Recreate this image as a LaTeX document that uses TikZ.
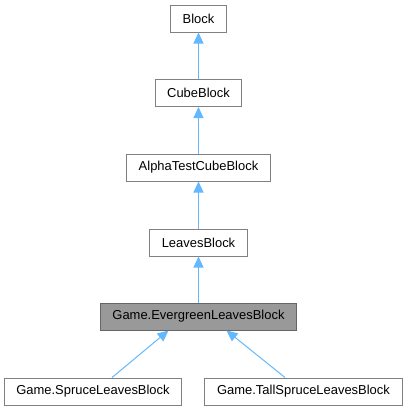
\documentclass[tikz,border=0pt]{standalone}
\usepackage{fontspec}
\setmainfont{Liberation Sans}
\usetikzlibrary{arrows.meta, calc}
\definecolor{edgeblue}{RGB}{99,184,255}
\definecolor{boxline}{RGB}{128,128,128}
\begin{document}
\begin{tikzpicture}[x=1bp, y=-1bp,
	cls/.style={draw=boxline, line width=1bp, fill=white, minimum height=27bp, inner sep=0pt, font=\fontsize{13}{15}\selectfont},
	current/.style={cls, fill=black!40, draw=black!60},
	inh/.style={draw=edgeblue, line width=1bp, -{Triangle[width=10bp, length=11bp]}}
	]
		\useasboundingbox (0,0) rectangle (408,411);
		\node [cls, minimum width=55bp] (block) at (198.5,18.5) {Block};
		\node [cls, minimum width=86bp] (cube) at (198.5,93) {CubeBlock};
		\node [cls, minimum width=143bp] (alpha) at (198.5,167.5) {AlphaTestCubeBlock};
		\node [cls, minimum width=97bp] (leaves) at (198.5,242.5) {LeavesBlock};
		\node [current, minimum width=195bp] (evergreen) at (198.5,316.5) {Game.EvergreenLeavesBlock};
		\node [cls, minimum width=176bp] (spruce) at (93,391.5) {Game.SpruceLeavesBlock};
		\node [cls, minimum width=197bp] (tall) at (303.5,391.5) {Game.TallSpruceLeavesBlock};
		\draw [inh] (cube) -- (block);
		\draw [inh] (alpha) -- (cube);
		\draw [inh] (leaves) -- (alpha);
		\draw [inh] (evergreen) -- (leaves);
		\draw [inh] ($(spruce.north)+(19,0)$) -- ($(evergreen.south)+(-30,0)$);
		\draw [inh] ($(tall.north)+(-18.5,0)$) -- ($(evergreen.south)+(28,0)$);
	\end{tikzpicture}
\end{document}
